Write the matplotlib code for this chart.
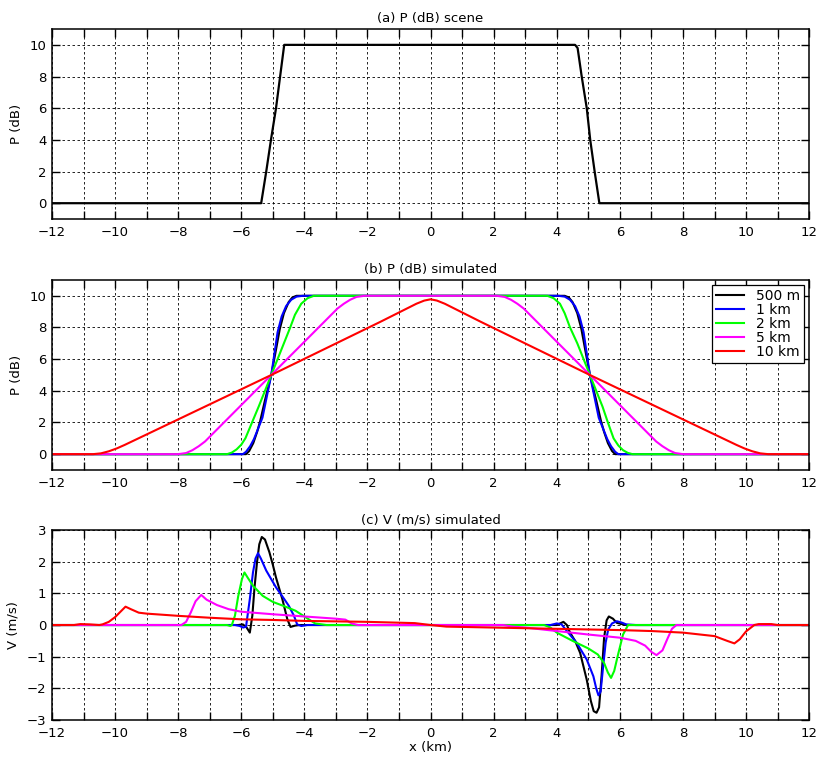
import matplotlib
matplotlib.use("Agg")
import matplotlib.pyplot as plt

# (a) scene profile
scene_x = [-12, -5.37, -5.21, -5.06, -4.9, -4.77, -4.64, 4.58, 4.66, 4.79, 4.95, 5.06, 5.2, 5.35, 12]
scene_y = [0, 0, 2, 4, 6, 8, 10, 10, 9.8, 8, 6, 4, 2, 0, 0]

labels = ["500 m", "1 km", "2 km", "5 km", "10 km"]
colors = ["#000000", "#0000ff", "#00ff00", "#ff00ff", "#ff0000"]

# (b) simulated P, one (x, y) list per resolution
p500_x = [-12, -5.85, -5.75, -5.62, -5.5, -5.4, -5.25, -5.05, -4.9, -4.78, -4.65, -4.5, -4.38, -4.25,
          4.25, 4.38, 4.5, 4.65, 4.78, 4.9, 5.05, 5.25, 5.4, 5.5, 5.62, 5.75, 5.85, 12]
p500_y = [0, 0, 0.2, 0.7, 1.4, 2.1, 3.4, 5.0, 6.6, 7.9, 8.9, 9.6, 9.9, 10,
          10, 9.9, 9.6, 8.9, 7.9, 6.6, 5.0, 3.4, 2.1, 1.4, 0.7, 0.2, 0, 0]
p1k_x = [-12, -5.95, -5.85, -5.72, -5.6, -5.47, -5.33, -5.05, -4.85, -4.72, -4.58, -4.42, -4.25, -4.05,
         4.05, 4.25, 4.42, 4.58, 4.72, 4.85, 5.05, 5.33, 5.47, 5.6, 5.72, 5.85, 5.95, 12]
p1k_y = [0, 0, 0.15, 0.5, 0.95, 1.6, 2.3, 5.0, 7.7, 8.7, 9.35, 9.75, 9.95, 10,
         10, 9.95, 9.75, 9.35, 8.7, 7.7, 5.0, 2.3, 1.6, 0.95, 0.5, 0.15, 0, 0]
p2k_x = [-12, -6.45, -6.3, -6.15, -6.0, -5.87, -5.66, -5.45, -5.05, -4.65, -4.45, -4.3, -4.1, -3.9, -3.7,
         3.7, 3.9, 4.1, 4.25, 4.42, 4.65, 5.05, 5.45, 5.62, 5.8, 5.95, 6.1, 6.25, 6.4, 12]
p2k_y = [0, 0, 0.1, 0.3, 0.6, 1.0, 2.0, 3.0, 5.0, 7.0, 8.0, 8.8, 9.5, 9.85, 10,
         10, 9.85, 9.5, 8.9, 8.0, 7.0, 5.0, 3.0, 2.0, 1.0, 0.55, 0.25, 0.08, 0, 0]
p5k_x = [-12, -8.0, -7.75, -7.55, -7.35, -7.15, -5.05, -2.95, -2.75, -2.55, -2.35, -2.1,
         2.1, 2.35, 2.55, 2.75, 2.95, 5.05, 7.15, 7.35, 7.55, 7.75, 8.0, 12]
p5k_y = [0, 0, 0.07, 0.25, 0.5, 0.8, 5.0, 9.2, 9.5, 9.75, 9.93, 10,
         10, 9.93, 9.75, 9.5, 9.2, 5.0, 0.8, 0.5, 0.25, 0.07, 0, 0]
p10k_x = [-12, -10.7, -10.45, -10.2, -9.95, -9.7, -5.05, -1.6, -1.2, -0.8, -0.45, -0.2, 0,
          0.2, 0.45, 0.8, 1.2, 1.6, 5.05, 9.7, 9.95, 10.2, 10.45, 10.7, 12]
p10k_y = [0, 0, 0.05, 0.18, 0.36, 0.58, 5.0, 8.35, 8.75, 9.15, 9.5, 9.7, 9.78,
          9.7, 9.5, 9.15, 8.75, 8.35, 5.0, 0.58, 0.36, 0.18, 0.05, 0, 0]

# (c) simulated V
v500_x = [-12, -6.1, -5.95, -5.83, -5.73, -5.65, -5.58, -5.5, -5.43, -5.35, -5.25, -5.11, -5.0, -4.9,
          -4.7, -4.54, -4.44, -4.3, -4.15, 4.0, 4.21, 4.32, 4.42, 4.58, 4.74, 4.95, 5.08, 5.17, 5.26,
          5.34, 5.42, 5.5, 5.58, 5.65, 5.78, 5.9, 6.2, 12]
v500_y = [0, 0, 0.02, -0.08, -0.24, 0.3, 1.2, 2.0, 2.55, 2.78, 2.7, 2.3, 1.9, 1.5,
          0.82, 0.18, -0.06, -0.02, 0, 0, 0.1, 0.0, -0.24, -0.5, -0.88, -1.73, -2.4, -2.72, -2.77,
          -2.6, -1.6, -0.4, 0.15, 0.27, 0.2, 0.07, 0, 0]
v1k_x = [-12, -6.2, -6.05, -5.94, -5.85, -5.73, -5.63, -5.55, -5.47, -5.38, -5.21, -4.9, -4.64, -4.49,
         -4.33, -4.23, -4.1, -3.9, 3.8, 4.0, 4.15, 4.32, 4.63, 4.95, 5.16, 5.25, 5.32, 5.39, 5.47,
         5.55, 5.63, 5.75, 5.9, 6.05, 6.2, 6.5, 12]
v1k_y = [0, 0, -0.03, -0.08, -0.05, 0.82, 1.66, 2.1, 2.27, 2.1, 1.72, 1.19, 0.82, 0.6,
         0.29, 0.02, -0.03, 0, 0, 0.05, 0.02, -0.19, -0.56, -1.09, -1.62, -2.0, -2.22, -2.1, -1.3,
         -0.55, -0.14, 0.05, 0.12, 0.08, 0.02, 0, 0]
v2k_x = [-12, -6.45, -6.35, -6.3, -6.2, -6.1, -5.98, -5.9, -5.8, -5.63, -5.32, -5.0, -4.6, -4.28,
         -4.0, -3.66, -3.3, 3.6, 3.8, 4.0, 4.5, 5.0, 5.3, 5.5, 5.62, 5.72, 5.82, 5.95, 6.1, 6.26, 12]
v2k_y = [0, 0, -0.03, 0, 0.3, 0.9, 1.45, 1.66, 1.5, 1.24, 0.92, 0.73, 0.58, 0.45,
         0.27, 0.05, 0, 0, -0.08, -0.24, -0.5, -0.74, -0.93, -1.2, -1.5, -1.67, -1.45, -0.9, -0.3, 0, 0]
v5k_x = [-12, -7.9, -7.75, -7.6, -7.45, -7.27, -7.1, -6.77, -6.4, -6.0, -5.0, -4.0, -3.0, -2.7,
         -2.5, -2.3, 2.3, 2.6, 3.0, 4.0, 5.0, 6.0, 6.5, 6.8, 7.0, 7.16, 7.35, 7.5, 7.65, 7.79, 12]
v5k_y = [0, 0, 0.1, 0.4, 0.75, 0.95, 0.8, 0.63, 0.5, 0.42, 0.34, 0.27, 0.2, 0.17,
         0.05, 0, 0, -0.05, -0.08, -0.19, -0.3, -0.4, -0.5, -0.65, -0.85, -0.95, -0.8, -0.45, -0.12, 0, 0]
v10k_x = [-12, -11.3, -11.1, -10.8, -10.5, -10.4, -10.2, -10.0, -9.8, -9.67, -9.5, -9.25, -9.0, -8.0,
          -7.0, -6.0, -5.0, -4.0, -2.0, -0.5, 0.0, 0.5, 1.0, 3.0, 4.0, 6.0, 7.0, 8.0, 9.0, 9.4,
          9.63, 9.8, 10.0, 10.26, 10.4, 10.8, 11.0, 12]
v10k_y = [0, 0, 0.03, 0.02, 0, 0.02, 0.1, 0.25, 0.45, 0.58, 0.5, 0.39, 0.36, 0.29,
          0.23, 0.18, 0.16, 0.13, 0.1, 0.06, 0.0, -0.05, -0.06, -0.1, -0.12, -0.16, -0.19, -0.24, -0.35, -0.5,
          -0.58, -0.45, -0.2, 0, 0.03, 0.03, 0, 0]

p_sim = [(p500_x, p500_y), (p1k_x, p1k_y), (p2k_x, p2k_y), (p5k_x, p5k_y), (p10k_x, p10k_y)]
v_sim = [(v500_x, v500_y), (v1k_x, v1k_y), (v2k_x, v2k_y), (v5k_x, v5k_y), (v10k_x, v10k_y)]

plt.rcParams['font.family'] = ['DejaVu Sans']
plt.rcParams['font.size'] = 9.5

fig = plt.figure(figsize=(8.23, 7.6), dpi=100)
left, width, height = 0.0632, 0.920, 0.25
ax_a = fig.add_axes([left, 0.7118, width, height])
ax_b = fig.add_axes([left, 0.3816, width, height])
ax_c = fig.add_axes([left, 0.0526, width, height])


def style(ax, ylim, yticks, title, ylabel):
    ax.set_xlim(-12, 12)
    ax.set_ylim(*ylim)
    ax.set_xticks(range(-12, 13))
    ax.set_xticklabels([str(v).replace('-', '\u2212') if v % 2 == 0 else '' for v in range(-12, 13)])
    ax.set_yticks(yticks)
    ax.set_yticklabels([str(v).replace('-', '\u2212') for v in yticks])
    ax.tick_params(direction='in', top=True, right=True, length=5.5, width=1.0)
    ax.tick_params(axis='x', pad=5)
    ax.tick_params(axis='y', pad=4)
    ax.grid(True, color='black', linestyle=(0, (3, 3)), linewidth=0.6)
    for s in ax.spines.values():
        s.set_linewidth(1.1)
    ax.set_title(title, fontsize=9.5, pad=5)
    ax.set_ylabel(ylabel, labelpad=5)


ax_a.plot(scene_x, scene_y, color='black', lw=1.6)
style(ax_a, (-1, 11), [0, 2, 4, 6, 8, 10], "(a) P (dB) scene", "P (dB)")

for (xs, ys), c, lab in zip(p_sim, colors, labels):
    ax_b.plot(xs, ys, color=c, lw=1.5, label=lab)
style(ax_b, (-1, 11), [0, 2, 4, 6, 8, 10], "(b) P (dB) simulated", "P (dB)")
leg = ax_b.legend(loc='upper right', fontsize=10, frameon=True, fancybox=False,
                  edgecolor='black', framealpha=1, borderaxespad=0.35,
                  handlelength=2.0, handletextpad=0.9, labelspacing=0.0, borderpad=0.3)
leg.get_frame().set_linewidth(0.9)

for (xs, ys), c in zip(v_sim, colors):
    ax_c.plot(xs, ys, color=c, lw=1.5)
style(ax_c, (-3, 3), [-3, -2, -1, 0, 1, 2, 3], "(c) V (m/s) simulated", "V (m/s)")
ax_c.set_xlabel("x (km)", labelpad=1)

fig.savefig("out.png", dpi=100)
